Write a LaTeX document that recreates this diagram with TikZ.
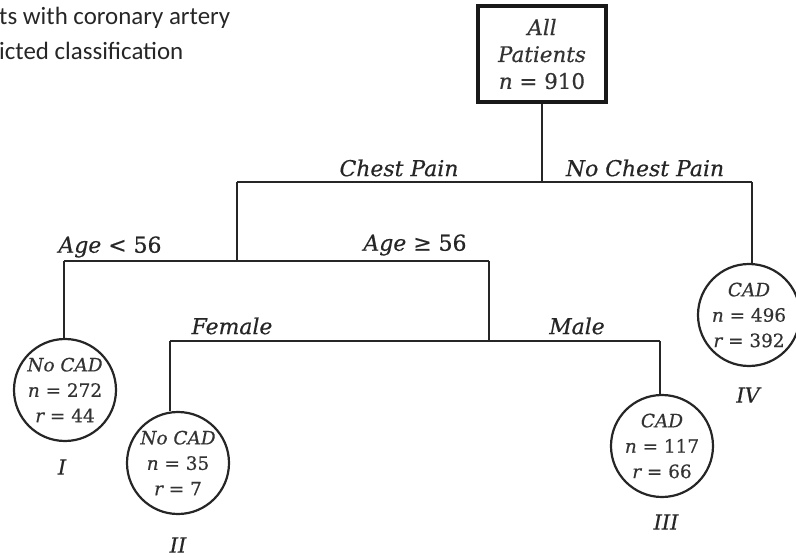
\documentclass[tikz,border=0pt]{standalone}
\usepackage{fontspec}
\setmainfont{DejaVu Serif}[FakeBold=0.5]
\newfontfamily\notefont{Carlito}
\begin{document}
\begin{tikzpicture}[x=1bp,y=-1bp,
  edge/.style={line width=2.2bp, draw=black!85},
  leaf/.style={circle, draw=black!85, line width=2.2bp, minimum size=102bp, inner sep=0pt, align=center, font=\fontsize{18.5}{25.5}\selectfont\itshape, text=black!80},
  lab/.style={font=\fontsize{22}{24}\selectfont\itshape, text=black!85, inner sep=0pt},
  roman/.style={font=\fontsize{21}{24}\selectfont\itshape, text=black!85, inner sep=0pt},
  note/.style={font=\notefont\fontsize{25}{28}\selectfont, text=black!85, anchor=west, inner sep=0pt}]
\useasboundingbox (0,0) rectangle (796,558);
\node[note] (n1) at (-1,18) {ts with coronary artery};
\node[note] (n2) at (-1,51) {icted classification};
\node[draw=black!90, line width=3.5bp, minimum width=128bp, minimum height=96bp, inner sep=0pt, align=center, font=\fontsize{21.5}{27}\selectfont\itshape, text=black!80] (root) at (542,54) {All\\Patients\\n {\upshape=} {\upshape 910}};
\coordinate (s1) at (542,182);
\coordinate (s1l) at (237,182);
\coordinate (s1r) at (752,182);
\coordinate (s2) at (237,261);
\coordinate (s2l) at (64,261);
\coordinate (s2r) at (489,261);
\coordinate (s3) at (489,341);
\coordinate (s3l) at (170,341);
\coordinate (s3r) at (660,341);
\node[leaf] (c4) at (749,315) {CAD\\n {\upshape= 496}\\r {\upshape= 392}};
\node[leaf] (c1) at (65,390) {No CAD\\n {\upshape= 272}\\r {\upshape= 44}};
\node[leaf] (c2) at (178,463) {No CAD\\n {\upshape= 35}\\r {\upshape= 7}};
\node[leaf] (c3) at (662,446) {CAD\\n {\upshape= 117}\\r {\upshape= 66}};
\draw[edge] (root.south) -- (s1);
\draw[edge] (s1l) -- (s1r);
\draw[edge] (s1l) -- (s2);
\draw[edge] (s1r) -- (s1r |- c4.north);
\draw[edge] (s2l) -- (s2r);
\draw[edge] (s2l) -- (s2l |- c1.north);
\draw[edge] (s2r) -- (s3);
\draw[edge] (s3l) -- (s3r);
\draw[edge] (s3l) -- (s3l |- c2.north);
\draw[edge] (s3r) -- (s3r |- c3.north);
\node[lab] (t1) at (399,168) {Chest Pain};
\node[lab] (t2) at (645,168) {No Chest Pain};
\node[lab] (t3) at (110,247) {Age {\upshape< 56}};
\node[lab] (t4) at (415,245) {Age {\upshape≥ 56}};
\node[lab] (t5) at (232,326) {Female};
\node[lab] (t6) at (577,326) {Male};
\node[roman] (r1) at (62,467) {I};
\node[roman] (r2) at (178,545) {II};
\node[roman] (r3) at (666,522) {III};
\node[roman] (r4) at (748,395) {IV};
\end{tikzpicture}
\end{document}
